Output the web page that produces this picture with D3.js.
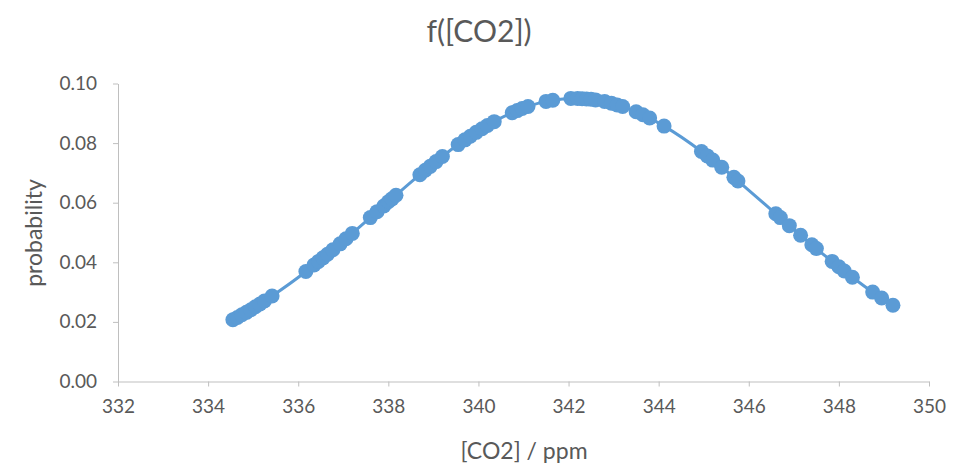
<!DOCTYPE html>
<html><head><meta charset="utf-8">
<script src="https://cdn.jsdelivr.net/npm/d3@7"></script>
<style>body{margin:0;background:#fff;} svg{display:block;}</style>
</head><body>
<svg id="chart" width="966" height="465"></svg>
<script>
const co2 = [334.55,334.65,334.75,334.85,334.95,335.05,335.15,335.25,335.42,
  336.17,336.35,336.45,336.55,336.65,336.77,336.93,337.06,337.2,
  337.6,337.75,337.9,338.0,338.08,338.17,338.7,338.82,338.93,339.06,339.2,
  339.55,339.7,339.82,339.95,340.08,340.2,340.35,340.75,340.86,340.97,341.1,
  341.5,341.65,342.05,342.2,342.3,342.4,342.5,342.6,342.8,342.95,343.08,343.2,
  343.5,343.65,343.8,344.12,344.95,345.08,345.2,345.4,345.67,345.76,
  346.6,346.7,346.9,347.15,347.4,347.5,347.85,348.0,348.12,348.3,348.75,348.95,349.2];
const prob = [0.0207,0.0215,0.0224,0.0232,0.0241,0.0251,0.0260,0.0270,0.0287,
  0.0369,0.0391,0.0403,0.0415,0.0427,0.0442,0.0462,0.0479,0.0497,
  0.0550,0.0570,0.0589,0.0603,0.0613,0.0625,0.0694,0.0709,0.0722,0.0738,0.0755,
  0.0795,0.0811,0.0823,0.0836,0.0848,0.0859,0.0872,0.0902,0.0909,0.0916,0.0923,
  0.0940,0.0944,0.0950,0.0950,0.0949,0.0948,0.0947,0.0945,0.0940,0.0934,0.0928,0.0923,
  0.0905,0.0895,0.0884,0.0857,0.0772,0.0757,0.0743,0.0719,0.0685,0.0673,
  0.0563,0.0550,0.0523,0.0491,0.0459,0.0446,0.0403,0.0385,0.0371,0.0350,0.0300,0.0280,0.0256];
const xTicks = [332,334,336,338,340,342,344,346,348,350];
const yTicks = [0,0.02,0.04,0.06,0.08,0.10];
const title = "f([CO2])", xTitle = "[CO2] / ppm", yTitle = "probability";

const svg = d3.select("#chart");
const font = "Lato, 'Open Sans', sans-serif";
const txt = "#595959", axisCol = "#BFBFBF", col = "#5B9BD5";
const x = d3.scaleLinear().domain([332,350]).range([118,929]);
const y = d3.scaleLinear().domain([0,0.10]).range([381.5,83.5]);

const xa = svg.append("g").attr("transform","translate(0,381.5)")
  .call(d3.axisBottom(x).tickValues(xTicks).tickSize(5).tickSizeOuter(0).tickPadding(10).tickFormat(d3.format("d")));
const ya = svg.append("g").attr("transform","translate(118,0)")
  .call(d3.axisLeft(y).tickValues(yTicks).tickSize(5).tickSizeOuter(0).tickPadding(16).tickFormat(d3.format(".2f")));
[xa,ya].forEach(g=>{
  g.select(".domain").attr("stroke",axisCol).attr("stroke-width",1);
  g.selectAll(".tick line").attr("stroke",axisCol);
  g.selectAll(".tick text").attr("fill",txt).style("font-family",font).style("font-size","19px");
});
xa.selectAll(".tick text").attr("dy","0.85em");

const pts = co2.map((c,i)=>({x:c,y:prob[i]}));
svg.append("path").datum(pts)
  .attr("fill","none").attr("stroke",col).attr("stroke-width",3)
  .attr("d", d3.line().x(d=>x(d.x)).y(d=>y(d.y)).curve(d3.curveMonotoneX));
svg.append("g").selectAll("circle").data(pts).join("circle")
  .attr("cx",d=>x(d.x)).attr("cy",d=>y(d.y)).attr("r",7.5).attr("fill",col);

svg.append("text").attr("x",479).attr("y",42).attr("text-anchor","middle")
  .attr("fill",txt).style("font-family",font).style("font-size","30px").text(title);
svg.append("text").attr("x",524).attr("y",459).attr("text-anchor","middle")
  .attr("fill",txt).style("font-family",font).style("font-size","23px").text(xTitle);
svg.append("text").attr("transform","translate(42,233) rotate(-90)").attr("text-anchor","middle")
  .attr("fill",txt).style("font-family",font).style("font-size","23px").text(yTitle);
</script>
</body></html>
